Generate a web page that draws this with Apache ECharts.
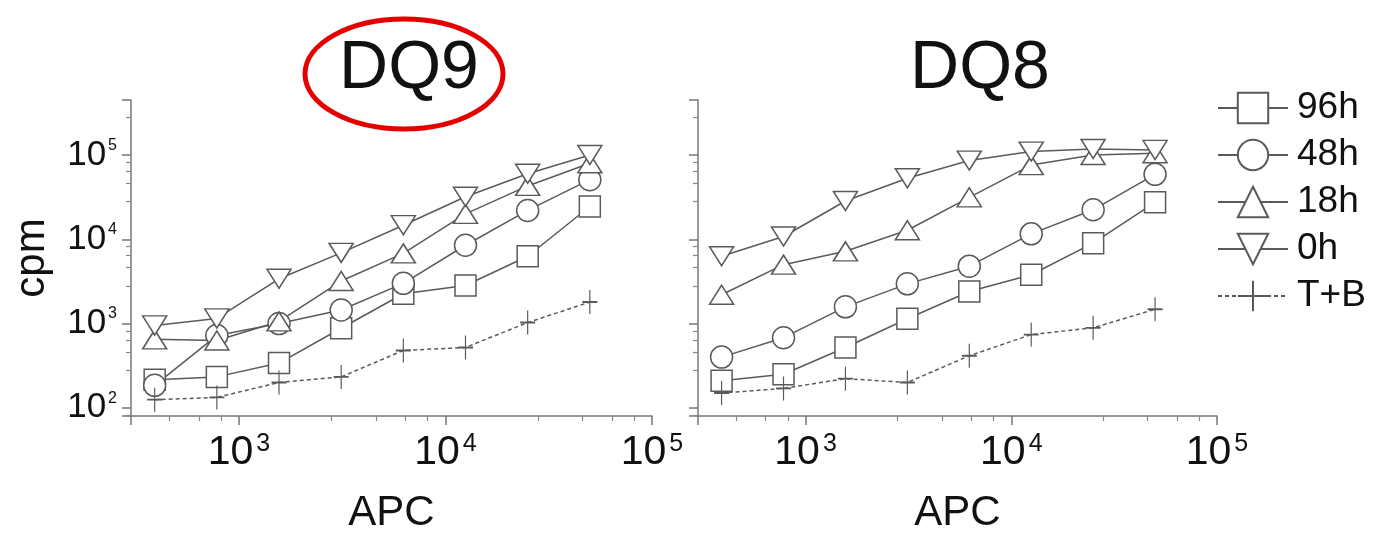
<!DOCTYPE html>
<html lang="en">
<head>
<meta charset="UTF-8">
<title>DQ9 / DQ8</title>
<script src="https://cdn.jsdelivr.net/npm/echarts@6/dist/echarts.min.js"></script>
<style>
  html, body { margin: 0; padding: 0; background: #fff; }
</style>
</head>
<body>
<div id="main" style="width: 1387px;height: 539px;"></div>
<script>
// APC doses (x), shared by both panels
var apc = [390.6, 781.3, 1562.5, 3125, 6250, 12500, 25000, 50000];

// DQ9 panel, cpm
var dq9_96h = [215, 233, 340, 880, 2260, 2830, 6300, 24500];
var dq9_48h = [185, 720, 1000, 1450, 3000, 8500, 22000, 51000];
var dq9_18h = [650, 630, 1060, 3200, 6800, 20000, 43000, 80000];
var dq9_0h  = [950, 1150, 3400, 6900, 14700, 32000, 60000, 100000];
var dq9_tb  = [125, 133, 200, 233, 480, 520, 1030, 1800];

// DQ8 panel, cpm
var dq8_96h = [210, 250, 520, 1140, 2400, 3800, 9000, 27500];
var dq8_48h = [400, 680, 1580, 2960, 4800, 11600, 22400, 59000];
var dq8_18h = [2200, 5000, 7200, 12800, 31500, 76000, 100000, 105000];
var dq8_0h  = [6300, 10800, 28500, 53000, 86000, 110000, 118000, 115000];
var dq8_tb  = [150, 170, 222, 200, 415, 740, 890, 1480];

var legendNames = ['96h', '48h', '18h', '0h', 'T+B'];

var myChart = echarts.init(document.getElementById('main'));
var font = 'Liberation Sans';
var ink = '#5a5a5a';

function pow10Label(value) {
	var e = Math.log10(value);
	if (Math.abs(e - Math.round(e)) > 1e-6) return '';
	return '{b|10}{s|' + Math.round(e) + '}';
}

function pair(xs, ys) {
	var out = [];
	for (var i = 0; i < xs.length; i++) out.push([xs[i], ys[i]]);
	return out;
}

var marks = {
	'96h': { symbol: 'rect', size: [21, 21], rotate: 0 },
	'48h': { symbol: 'circle', size: [22, 22], rotate: 0 },
	'18h': { symbol: 'triangle', size: [24, 19], rotate: 0 },
	'0h':  { symbol: 'triangle', size: [24, 19], rotate: 180 },
	'T+B': { symbol: 'path://M5,0 L5,10 M0,5 L10,5', size: [15, 24], rotate: 0 }
};

function makeSeries(name, ys, idx) {
	var m = marks[name];
	return {
		name: name,
		type: 'line',
		xAxisIndex: idx,
		yAxisIndex: idx,
		symbol: m.symbol,
		symbolSize: m.size,
		symbolRotate: m.rotate,
		showAllSymbol: true,
		itemStyle: {
			color: '#fff',
			borderColor: ink,
			borderWidth: 1.5
		},
		lineStyle: {
			color: ink,
			width: 1.5,
			type: name === 'T+B' ? [4, 3] : 'solid'
		},
		emphasis: { disabled: true },
		data: pair(apc, ys)
	};
}

function xAxisFor(idx) {
	return {
		type: 'log',
		logBase: 10,
		gridIndex: idx,
		min: 300,
		max: 100000,
		splitNumber: 3,
		name: 'APC',
		nameLocation: 'middle',
		nameGap: 76,
		nameTextStyle: { fontFamily: font, fontSize: 42, color: '#111' },
		axisLine: { show: true, lineStyle: { color: '#777', width: 1.5 } },
		axisTick: { show: true, length: 9, lineStyle: { color: '#777', width: 1.5 } },
		minorTick: { show: true, splitNumber: 5, length: 5, lineStyle: { color: '#888', width: 1.2 } },
		splitLine: { show: false },
		axisLabel: {
			margin: 16,
			formatter: pow10Label,
			rich: {
				b: { fontFamily: font, fontSize: 41, color: '#111' },
				s: { fontFamily: font, fontSize: 25, color: '#111', verticalAlign: 'top', padding: [0, 0, 0, 3] }
			}
		}
	};
}

function yAxisFor(idx) {
	return {
		type: 'log',
		logBase: 10,
		gridIndex: idx,
		min: 80,
		max: 450000,
		splitNumber: 4,
		name: idx === 0 ? 'cpm' : '',
		nameLocation: 'middle',
		nameGap: 78,
		nameTextStyle: { fontFamily: font, fontSize: 42, color: '#111' },
		axisLine: { show: true, lineStyle: { color: '#777', width: 1.5 } },
		axisTick: { show: true, length: 9, lineStyle: { color: '#777', width: 1.5 } },
		minorTick: { show: true, splitNumber: 5, length: 5, lineStyle: { color: '#888', width: 1.2 } },
		splitLine: { show: false },
		axisLabel: {
			show: idx === 0,
			margin: 14,
			formatter: pow10Label,
			rich: {
				b: { fontFamily: font, fontSize: 35, color: '#111' },
				s: { fontFamily: font, fontSize: 16, color: '#111', verticalAlign: 'top', padding: [0, 0, 0, 2] }
			}
		}
	};
}

var option = {
	animation: false,
	backgroundColor: '#fff',
	title: [
		{ text: 'DQ9', left: 404, top: 30, textAlign: 'center',
		  textStyle: { fontFamily: font, fontSize: 68, fontWeight: 'normal', color: '#111' } },
		{ text: 'DQ8', left: 975, top: 30, textAlign: 'center',
		  textStyle: { fontFamily: font, fontSize: 68, fontWeight: 'normal', color: '#111' } }
	],
	graphic: [{
		type: 'ellipse',
		shape: { cx: 404, cy: 74, rx: 99, ry: 55 },
		style: { fill: null, stroke: '#e50000', lineWidth: 5 }
	}],
	legend: {
		data: legendNames,
		orient: 'vertical',
		left: 1212,
		top: 83,
		itemWidth: 70,
		itemHeight: 38,
		itemGap: 7,
		textStyle: { fontFamily: font, fontSize: 37, color: '#111', lineHeight: 40, padding: [0, 0, 0, 4] }
	},
	grid: [
		{ left: 131, right: 735, top: 100, bottom: 116 },
		{ left: 698, right: 170, top: 100, bottom: 116 }
	],
	xAxis: [xAxisFor(0), xAxisFor(1)],
	yAxis: [yAxisFor(0), yAxisFor(1)],
	series: [
		makeSeries('96h', dq9_96h, 0),
		makeSeries('48h', dq9_48h, 0),
		makeSeries('18h', dq9_18h, 0),
		makeSeries('0h', dq9_0h, 0),
		makeSeries('T+B', dq9_tb, 0),
		makeSeries('96h', dq8_96h, 1),
		makeSeries('48h', dq8_48h, 1),
		makeSeries('18h', dq8_18h, 1),
		makeSeries('0h', dq8_0h, 1),
		makeSeries('T+B', dq8_tb, 1)
	]
};
myChart.setOption(option);
</script>
</body>
</html>
